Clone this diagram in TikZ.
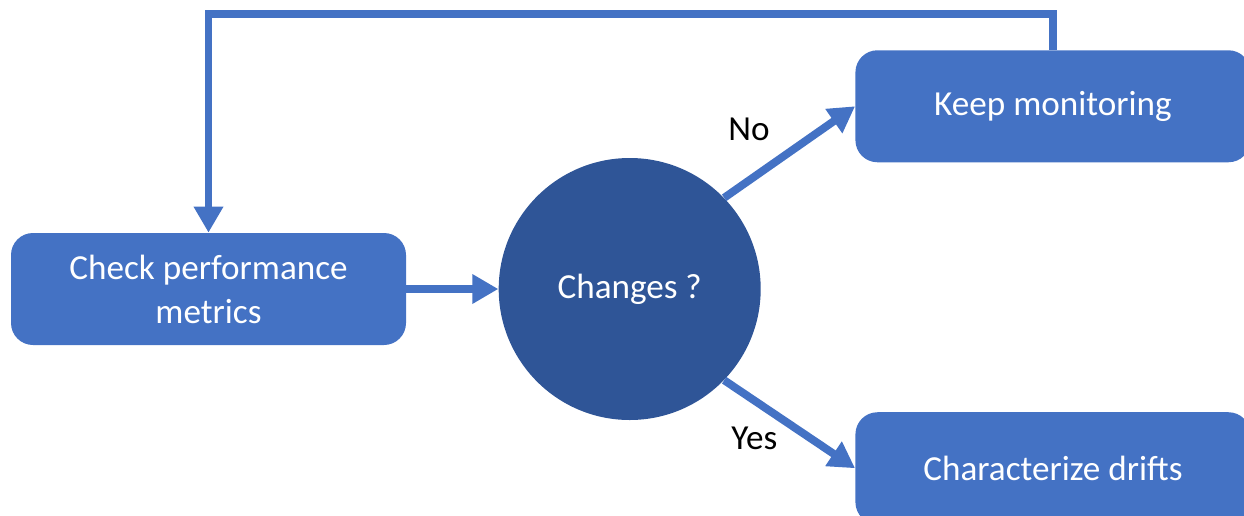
\documentclass[tikz,border=0pt]{standalone}
\usepackage{fontspec}
\setmainfont{Carlito}
\usetikzlibrary{arrows.meta,positioning}
\definecolor{boxblue}{HTML}{4472C4}
\definecolor{darkblue}{HTML}{2F5597}

\begin{document}
\begin{tikzpicture}[>={Triangle[length=0.52cm,width=0.56cm]},
                    font=\fontsize{20}{25}\selectfont]
  \tikzstyle{box}=[rectangle,rounded corners=0.44cm,fill=boxblue,text=white,
                   minimum width=7.9cm,minimum height=2.24cm,align=center]
  \tikzstyle{decision}=[circle,fill=darkblue,text=white,minimum size=5.24cm]
  \tikzstyle{flow}=[->,draw=boxblue,line width=4.5pt]

  \useasboundingbox (0,0) rectangle (24.88,-10.3);

  \node[box] (A) at (4.17,-5.78) {Check performance\\metrics};
  \node[decision] (B) [right=1.84cm of A] {Changes ?};
  \node[box] (C) [above right=0.67cm and 2.65cm of B] {Keep monitoring};
  \node[box] (D) [below right=0.6cm and 2.65cm of B] {Characterize drifts};

  \path (A) edge[flow] (B)
   (B.44) edge[flow] node[pos=0.19,above=0.6cm] {No} (C.west)
   (B.-44) edge[flow] node[pos=0.23,below=0.34cm] {Yes} (D.west);

  % back to the start
  \draw[flow] (C.north) -- ++(0,0.72) -| (A.north);
\end{tikzpicture}
\end{document}
